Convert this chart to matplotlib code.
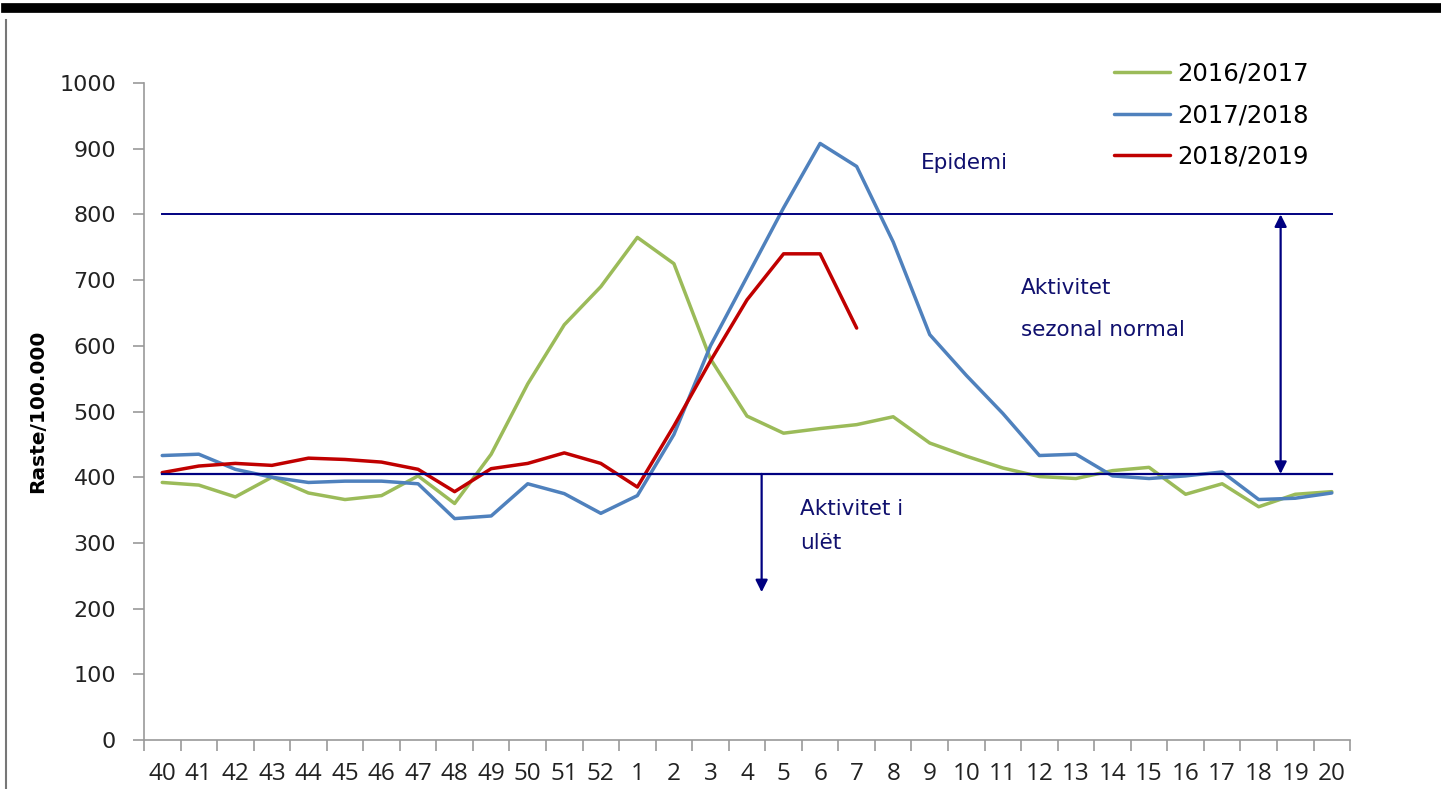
import numpy as np
import matplotlib.pyplot as plt
from matplotlib.lines import Line2D

weeks = ['40', '41', '42', '43', '44', '45', '46', '47', '48', '49', '50', '51', '52',
         '1', '2', '3', '4', '5', '6', '7', '8', '9', '10', '11', '12', '13', '14', '15',
         '16', '17', '18', '19', '20']

s2016 = [392, 388, 370, 400, 376, 366, 372, 402, 360, 435, 542, 632, 690,
         765, 725, 580, 493, 467, 474, 480, 492, 452, 432, 414, 401, 398, 410, 415,
         374, 390, 355, 374, 378]
s2017 = [433, 435, 412, 400, 392, 394, 394, 390, 337, 341, 390, 375, 345,
         372, 465, 600, 705, 810, 908, 873, 758, 617, 555, 497, 433, 435, 402, 398,
         402, 408, 366, 368, 376]
s2018 = [407, 417, 421, 418, 429, 427, 423, 412, 378, 413, 421, 437, 421,
         385, 478, 577, 670, 740, 740, 627]

epidemic_level = 800
baseline_level = 405

navy = '#000080'
txt_navy = '#10106e'

fig = plt.figure(figsize=(14.41, 7.89), dpi=100)
ax = fig.add_axes([0.0999, 0.0621, 0.8370, 0.8327])

x = np.arange(len(weeks))
ax.plot(x, s2016, color='#9BBB59', lw=2.5, label='2016/2017', solid_capstyle='round')
ax.plot(x, s2017, color='#4F81BD', lw=2.5, label='2017/2018', solid_capstyle='round')
ax.plot(np.arange(len(s2018)), s2018, color='#C00000', lw=2.5, label='2018/2019',
        solid_capstyle='round')

# threshold lines
ax.plot([x[0], x[-1]], [epidemic_level, epidemic_level], color=navy, lw=1.4)
ax.plot([x[0], x[-1]], [baseline_level, baseline_level], color=navy, lw=1.6)

# arrows
ax.annotate('', xy=(30.6, epidemic_level), xytext=(30.6, baseline_level),
            arrowprops=dict(arrowstyle='<|-|>', color=navy, lw=1.6, mutation_scale=18,
                            shrinkA=0, shrinkB=0))
ax.annotate('', xy=(16.4, 225), xytext=(16.4, baseline_level),
            arrowprops=dict(arrowstyle='-|>', color=navy, lw=1.6, mutation_scale=18,
                            shrinkA=0, shrinkB=0))

fs_note = 15.5
ax.text(20.75, 878, 'Epidemi', color=txt_navy, fontsize=fs_note, family='DejaVu Sans',
        va='center')
ax.text(23.5, 688, 'Aktivitet', color=txt_navy, fontsize=fs_note, family='DejaVu Sans',
        va='center')
ax.text(23.5, 624, 'sezonal normal', color=txt_navy, fontsize=fs_note, family='DejaVu Sans',
        va='center')
ax.text(17.45, 352, 'Aktivitet i', color=txt_navy, fontsize=fs_note, family='DejaVu Sans',
        va='center')
ax.text(17.45, 300, 'ulët', color=txt_navy, fontsize=fs_note, family='DejaVu Sans',
        va='center')

ax.set_xlim(-0.5, len(weeks) - 0.5)
ax.set_ylim(0, 1000)
ax.set_yticks(range(0, 1001, 100))
ax.set_xticks(x)
ax.set_xticklabels(weeks, fontsize=17.5, family='Open Sans', color='#222222')
ax.set_xticks(np.arange(-0.5, len(weeks), 1), minor=True)
ax.tick_params(axis='x', which='major', length=0, pad=16)
ax.tick_params(axis='x', which='minor', length=8, color='#999999', width=1.2, direction='out')
ax.tick_params(axis='y', length=8, color='#999999', width=1.2, labelsize=16,
               labelcolor='#222222', pad=12)
for lab in ax.get_yticklabels():
    lab.set_family('DejaVu Sans')

for side in ['top', 'right']:
    ax.spines[side].set_visible(False)
for side in ['left', 'bottom']:
    ax.spines[side].set_color('#999999')
    ax.spines[side].set_linewidth(1.2)

ax.set_ylabel('Raste/100.000', fontsize=14.5, fontweight='bold', family='DejaVu Sans')
ax.yaxis.set_label_coords(-0.080, 0.5)

ax.legend(loc='upper left', bbox_to_anchor=(0.786, 1.066), frameon=False,
          handlelength=2.3, handletextpad=0.3, labelspacing=0.72,
          prop={'family': 'DejaVu Sans', 'size': 17.5})

# page decorations
fig.add_artist(Line2D([0.004, 1.0], [0.990, 0.990], color='black', lw=7,
                      transform=fig.transFigure))
fig.add_artist(Line2D([0.0045, 0.0045], [0.0, 0.975], color='#777777', lw=1.5,
                      transform=fig.transFigure))

fig.savefig('out.png', dpi=100)
